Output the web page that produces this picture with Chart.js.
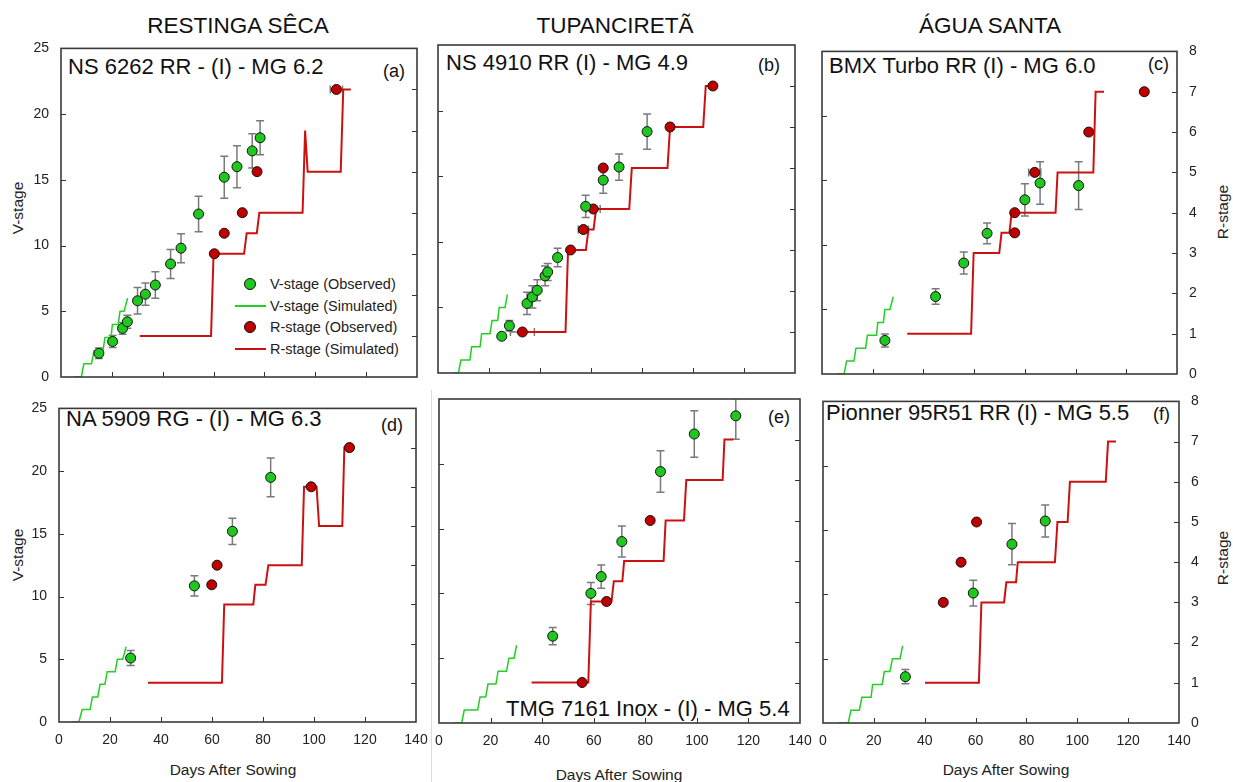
<!DOCTYPE html>
<html>
<head>
<meta charset="utf-8">
<script src="https://cdn.jsdelivr.net/npm/chart.js@4.4.1/dist/chart.umd.min.js"></script>
<style>
  body { margin: 0; background: #fff; width: 1233px; height: 782px; position: relative; overflow: hidden;
         font-family: Arial, "Liberation Sans", sans-serif; color: #111; }
  canvas { position: absolute; }
  .t { position: absolute; white-space: nowrap; }
  .site { font-size: 22.5px; line-height: 22px; transform: translateX(-50%); }
  .name { font-size: 22px; line-height: 22px; }
  .tag { font-size: 18px; line-height: 18px; }
  .ax { font-size: 15.5px; line-height: 16px; transform: translate(-50%, -50%); color: #222; }
  .axv { transform: translate(-50%, -50%) rotate(-90deg); }
  .leg { font-size: 14.5px; line-height: 14px; color: #222; }
  .dot { position: absolute; width: 10px; height: 10px; border-radius: 50%; border: 1px solid #111; }
  .ln { position: absolute; width: 31px; height: 2px; }
</style>
</head>
<body>

<div class="t site" style="left:238px; top:15px">RESTINGA SÊCA</div>
<div class="t site" style="left:615px; top:15px">TUPANCIRETÃ</div>
<div class="t site" style="left:990px; top:15px">ÁGUA SANTA</div>

<div class="t name" style="left:68px; top:56px">NS 6262 RR - (I) - MG 6.2</div>
<div class="t tag" style="left:383px; top:62px">(a)</div>
<div class="t name" style="left:446px; top:52px">NS 4910 RR (I) - MG 4.9</div>
<div class="t tag" style="left:758px; top:56px">(b)</div>
<div class="t name" style="left:829px; top:55px">BMX Turbo RR (I) - MG 6.0</div>
<div class="t tag" style="left:1148px; top:55px">(c)</div>
<div class="t name" style="left:66px; top:408px">NA 5909 RG - (I) - MG 6.3</div>
<div class="t tag" style="left:381px; top:416px">(d)</div>
<div class="t name" style="left:506px; top:698px">TMG 7161 Inox - (I) - MG 5.4</div>
<div class="t tag" style="left:768px; top:408px">(e)</div>
<div class="t name" style="left:826px; top:402px">Pionner 95R51 RR (I) - MG 5.5</div>
<div class="t tag" style="left:1153px; top:405px">(f)</div>

<div class="t ax axv" style="left:18px; top:208px">V-stage</div>
<div class="t ax axv" style="left:18px; top:555px">V-stage</div>
<div class="t ax axv" style="left:1223px; top:212px">R-stage</div>
<div class="t ax axv" style="left:1223px; top:558px">R-stage</div>
<div class="t ax" style="left:233px; top:770px">Days After Sowing</div>
<div class="t ax" style="left:619px; top:775px">Days After Sowing</div>
<div class="t ax" style="left:1006px; top:770px">Days After Sowing</div>

<div style="position:absolute; left:431px; top:390px; width:1px; height:392px; background:#ddd"></div>

<!-- legend of panel (a) -->
<div class="dot" style="left:244px; top:278px; background:#1fc71f"></div>
<div class="t leg" style="left:270px; top:277px">V-stage (Observed)</div>
<div class="ln" style="left:235px; top:305px; height:1.5px; background:#22d022"></div>
<div class="t leg" style="left:270px; top:299px">V-stage (Simulated)</div>
<div class="dot" style="left:244px; top:321px; background:#c00000"></div>
<div class="t leg" style="left:270px; top:320px">R-stage (Observed)</div>
<div class="ln" style="left:235px; top:348px; background:#cc1111"></div>
<div class="t leg" style="left:270px; top:342px">R-stage (Simulated)</div>

<script>
// observed V-stage: [day, V-stage, sd]
const aVObs = [[14.9, 1.8, 0.4], [20.3, 2.7, 0.45], [24.2, 3.7, 0.45], [26.1, 4.2, 0.5], [30.1, 5.8, 1.0],
  [33.2, 6.3, 0.85], [37.1, 7.0, 1.0], [43.1, 8.6, 1.1], [47.2, 9.8, 1.1], [54.1, 12.4, 1.35],
  [64.2, 15.2, 1.6], [69.2, 16.0, 1.6], [75.2, 17.2, 1.3], [78.3, 18.2, 1.3]];
const bVObs = [[25, 2.8, 0], [28, 3.6, 0.4], [34.9, 5.3, 0.85], [37, 5.8, 0.85], [38.9, 6.3, 0.8],
  [42, 7.4, 0.75], [43, 7.7, 0.65], [46.9, 8.8, 0.7], [57.9, 12.7, 0.85], [64.8, 14.7, 1.0],
  [71, 15.7, 1.0], [82, 18.4, 1.35]];
const cVObs = [[24.8, 2.6, 0.5], [44.8, 6.0, 0.6], [55.9, 8.6, 0.85], [65.1, 10.9, 0.8], [80, 13.5, 1.25],
  [86, 14.8, 1.65], [101.2, 14.6, 1.85]];
const dVObs = [[28.1, 5.1, 0.6], [53.1, 10.85, 0.8], [68, 15.2, 1.05], [83, 19.5, 1.55]];
const eVObs = [[44.1, 6.7, 0.67], [58.9, 10.0, 0.85], [62.9, 11.3, 0.9], [70.9, 14.0, 1.2], [85.9, 19.4, 1.6],
  [99, 22.3, 1.8], [115.1, 23.7, 1.8]];
const fVObs = [[32.4, 3.6, 0.55], [59.1, 10.1, 1.0], [74.3, 13.9, 1.6], [87.4, 15.7, 1.25]];

// observed R-stage: [day, R-stage, sd in days]
const aRObs = [[60.3, 3, 0], [64.2, 3.5, 0], [71.3, 4, 0], [77.1, 5, 0], [108.3, 7, 2.4]];
const bRObs = [[33.1, 1, 4.7], [52, 3, 0], [57, 3.5, 2], [60.9, 4, 2.7], [64.8, 5, 0], [91, 6, 0], [107.8, 7, 0]];
const cRObs = [[76, 3.5, 0], [76, 4, 0], [83.9, 5, 2.4], [105.2, 6, 0], [127.1, 7, 0]];
const dRObs = [[59.9, 3.5, 0], [62, 4, 0], [98.9, 6, 0], [113.9, 7, 0]];
const eRObs = [[55.5, 1, 0], [65, 3, 0], [81.9, 5, 0]];
const fRObs = [[47.3, 3, 0], [54.3, 4, 0], [60.4, 5, 0]];

// simulated V-stage: [day, V-stage]
const aVSim = [[5, 0], [8, 0], [9, 1], [12, 1], [13, 2], [16.5, 2], [17.3, 3], [19.7, 3], [20.2, 4], [22.5, 4], [23.2, 5], [24.8, 5], [26.2, 6]];
const bVSim = [[6, 0], [8, 0], [9, 1], [12.5, 1], [13.2, 2], [16.5, 2], [17.1, 3], [20.4, 3], [21.2, 4], [23.4, 4], [24, 5], [26.3, 5], [27.2, 6]];
const cVSim = [[5.8, 0], [8.7, 0], [9.7, 1], [12.6, 1], [13.4, 2], [17.2, 2], [17.9, 3], [21.5, 3], [22, 4], [24.2, 4], [24.8, 5], [26.8, 5], [28.1, 6]];
const dVSim = [[5, 0], [7.8, 0], [9.1, 1], [12.2, 1], [13.1, 2], [15.2, 2], [16.1, 3], [18, 3], [18.9, 4], [22, 4], [22.9, 5], [25, 5], [26.3, 6]];
const eVSim = [[5.9, 0], [8.8, 0], [9.8, 1], [15, 1], [15.9, 2], [18.1, 2], [19, 3], [22.1, 3], [22.9, 4], [26.2, 4], [27.1, 5], [29.1, 5], [30.1, 6]];
const fVSim = [[6, 0], [9.9, 0], [11, 1], [14.3, 1], [15.3, 2], [18.9, 2], [19.5, 3], [23.3, 3], [24.1, 4], [26.3, 4], [27.3, 5], [30.3, 5], [31.3, 6]];

// simulated R-stage: [day, R-stage]
const aRSim = [[31, 1], [59, 1], [60, 3], [72, 3], [73, 3.5], [77, 3.5], [78, 4], [95, 4], [96, 6], [97, 5], [110, 5], [111, 7], [114, 7]];
const bRSim = [[33, 1], [50, 1], [51, 3], [58, 3], [59, 3.5], [61, 3.5], [62, 4], [75, 4], [76, 5], [90, 5], [91, 6], [104, 6], [105, 7], [108, 7]];
const cRSim = [[33.6, 1], [58.8, 1], [59.8, 3], [69.9, 3], [70.8, 3.5], [73.9, 3.5], [74.8, 4], [92.1, 4], [92.9, 5], [107, 5], [107.9, 7], [111.2, 7]];
const dRSim = [[34.9, 1], [63.9, 1], [64.8, 3], [76.2, 3], [77, 3.5], [81, 3.5], [82.1, 4], [95.2, 4], [96.1, 6], [101, 6], [102, 5], [111.1, 5], [111.9, 7], [116.1, 7]];
const eRSim = [[35.9, 1], [57.9, 1], [58.9, 3], [66.9, 3], [67.8, 3.5], [71.1, 3.5], [71.8, 4], [87.1, 4], [87.9, 5], [95, 5], [95.9, 6], [110, 6], [110.7, 7], [114.1, 7]];
const fRSim = [[40.1, 1], [61.3, 1], [62.3, 3], [71.2, 3], [72.1, 3.5], [75.9, 3.5], [76.6, 4], [91.2, 4], [92.2, 5], [96.2, 5], [97.1, 6], [111.2, 6], [112.1, 7], [115.2, 7]];

const xTicks = [0, 20, 40, 60, 80, 100, 120, 140];

const GREEN = '#1fc71f';
const GREEN_LINE = '#22d022';
const RED = '#c00000';
const RED_LINE = '#cc1111';

const padL = 50, padR = 42, padT = 15, padB = 32;

// plot area of each panel (left, top, right, bottom) + which tick labels show
const panels = [
  { box: [61, 43, 417, 377], vObs: aVObs, rObs: aRObs, vSim: aVSim, rSim: aRSim, xLab: false, vLab: true, rLab: false },
  { box: [438, 45, 795, 373], vObs: bVObs, rObs: bRObs, vSim: bVSim, rSim: bRSim, xLab: false, vLab: false, rLab: false },
  { box: [822, 46, 1177, 374], vObs: cVObs, rObs: cRObs, vSim: cVSim, rSim: cRSim, xLab: false, vLab: false, rLab: true },
  { box: [59, 403, 416, 722], vObs: dVObs, rObs: dRObs, vSim: dVSim, rSim: dRSim, xLab: true, vLab: true, rLab: false },
  { box: [439, 399, 800, 723], vObs: eVObs, rObs: eRObs, vSim: eVSim, rSim: eRSim, xLab: true, vLab: false, rLab: false },
  { box: [823, 396, 1179, 723], vObs: fVObs, rObs: fRObs, vSim: fVSim, rSim: fRSim, xLab: true, vLab: false, rLab: true },
];

Chart.defaults.font.family = 'Arial, "Liberation Sans", sans-serif';
Chart.defaults.font.size = 14;
Chart.defaults.color = '#222';

// frame, inward ticks and sd bars
const decor = {
  id: 'decor',
  beforeDatasetsDraw(chart, args, opts) {
    const { ctx, chartArea: ca, scales } = chart;
    ctx.save();
    ctx.beginPath();
    ctx.rect(ca.left, ca.top, ca.width, ca.height);
    ctx.clip();
    ctx.strokeStyle = '#7a7a7a';
    ctx.lineWidth = 1.5;
    ctx.beginPath();
    opts.vObs.forEach(([d, v, sd]) => {
      if (!sd) return;
      const x = scales.x.getPixelForValue(d);
      const y1 = scales.y.getPixelForValue(v - sd);
      const y2 = scales.y.getPixelForValue(v + sd);
      ctx.moveTo(x, y1); ctx.lineTo(x, y2);
      ctx.moveTo(x - 4, y1); ctx.lineTo(x + 4, y1);
      ctx.moveTo(x - 4, y2); ctx.lineTo(x + 4, y2);
    });
    opts.rObs.forEach(([d, r, sd]) => {
      if (!sd) return;
      const y = scales.y2.getPixelForValue(r);
      const x1 = scales.x.getPixelForValue(d - sd);
      const x2 = scales.x.getPixelForValue(d + sd);
      ctx.moveTo(x1, y); ctx.lineTo(x2, y);
      ctx.moveTo(x1, y - 4); ctx.lineTo(x1, y + 4);
      ctx.moveTo(x2, y - 4); ctx.lineTo(x2, y + 4);
    });
    ctx.stroke();
    ctx.restore();
  },
  afterDatasetsDraw(chart) {
    const { ctx, chartArea: ca, scales } = chart;
    ctx.save();
    ctx.strokeStyle = '#333';
    ctx.lineWidth = 1;
    ctx.beginPath();
    scales.x.ticks.forEach((t) => {
      if (t.value <= 0 || t.value >= 140) return;
      const x = Math.round(scales.x.getPixelForValue(t.value)) + 0.5;
      ctx.moveTo(x, ca.bottom); ctx.lineTo(x, ca.bottom - 5);
    });
    scales.y.ticks.forEach((t) => {
      if (t.value <= 0 || t.value >= 25) return;
      const y = Math.round(scales.y.getPixelForValue(t.value)) + 0.5;
      ctx.moveTo(ca.left, y); ctx.lineTo(ca.left + 5, y);
    });
    scales.y2.ticks.forEach((t) => {
      if (t.value <= 0 || t.value >= 8) return;
      const y = Math.round(scales.y2.getPixelForValue(t.value)) + 0.5;
      ctx.moveTo(ca.right, y); ctx.lineTo(ca.right - 5, y);
    });
    ctx.stroke();
    ctx.strokeStyle = '#3a3a3a';
    ctx.lineWidth = 1.6;
    ctx.strokeRect(ca.left, ca.top, ca.width, ca.height);
    ctx.restore();
  },
};

const toXY = (rows) => rows.map(([x, y]) => ({ x, y }));

panels.forEach((p) => {
  const [L, T, R, B] = p.box;
  const canvas = document.createElement('canvas');
  canvas.width = R - L + padL + padR;
  canvas.height = B - T + padT + padB;
  canvas.style.left = (L - padL) + 'px';
  canvas.style.top = (T - padT) + 'px';
  document.body.appendChild(canvas);

  new Chart(canvas.getContext('2d'), {
    type: 'scatter',
    data: {
      datasets: [
        { data: toXY(p.vObs), yAxisID: 'y', pointRadius: 5, pointBackgroundColor: GREEN, pointBorderColor: '#111', pointBorderWidth: 1 },
        { data: toXY(p.rObs), yAxisID: 'y2', pointRadius: 5, pointBackgroundColor: RED, pointBorderColor: '#111', pointBorderWidth: 1 },
        { data: toXY(p.vSim), yAxisID: 'y', showLine: true, borderColor: GREEN_LINE, borderWidth: 1.5, pointRadius: 0 },
        { data: toXY(p.rSim), yAxisID: 'y2', showLine: true, borderColor: RED_LINE, borderWidth: 2, pointRadius: 0 },
      ],
    },
    options: {
      responsive: false,
      animation: false,
      events: [],
      layout: { padding: { top: padT, left: 0, right: 0, bottom: 0 } },
      plugins: {
        legend: { display: false },
        tooltip: { enabled: false },
        decor: { vObs: p.vObs, rObs: p.rObs },
      },
      scales: {
        x: {
          type: 'linear',
          min: 0,
          max: 140,
          afterBuildTicks: (s) => { s.ticks = xTicks.map((v) => ({ value: v })); },
          ticks: { display: p.xLab, padding: 10, maxRotation: 0 },
          grid: { display: false, drawTicks: false },
          border: { display: false },
          afterFit: (s) => { s.height = padB; },
        },
        y: {
          position: 'left',
          min: 0,
          max: 25,
          ticks: { display: p.vLab, stepSize: 5, padding: 12 },
          grid: { display: false, drawTicks: false },
          border: { display: false },
          afterFit: (s) => { s.width = padL; },
        },
        y2: {
          position: 'right',
          min: 0,
          max: 8,
          ticks: { display: p.rLab, stepSize: 1, padding: 12 },
          grid: { display: false, drawTicks: false },
          border: { display: false },
          afterFit: (s) => { s.width = padR; },
        },
      },
    },
    plugins: [decor],
  });
});
</script>
</body>
</html>
